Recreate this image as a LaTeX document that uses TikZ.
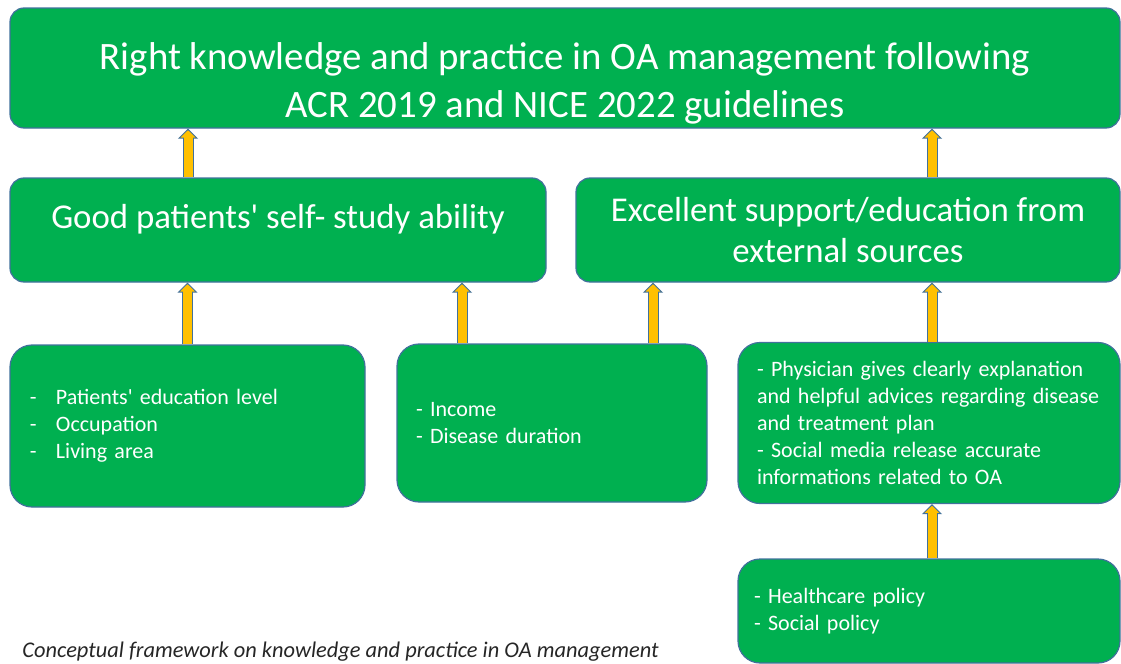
\documentclass[tikz,border=0pt]{standalone}
\usepackage{fontspec}
\setmainfont{Carlito}
\usetikzlibrary{arrows.meta}

\definecolor{boxgreen}{HTML}{00B050}
\definecolor{boxline}{HTML}{41719C}
\definecolor{arrowyellow}{HTML}{FFC000}

\begin{document}
\begin{tikzpicture}[x=0.5pt, y=-0.5pt,
        box/.style={rectangle, rounded corners=7pt, draw=boxline, line width=0.6pt, fill=boxgreen, text=white, inner sep=0pt},
        factor/.style={box, rounded corners=11pt, align=left, font=\fontsize{11}{13.5}\selectfont},
        up/.style={draw=boxline, line width=5.5pt, -{Triangle[width=10pt, length=5pt, line width=0.5pt, fill=arrowyellow]},
            postaction={draw=arrowyellow, line width=4.5pt, -, shorten >=4.4pt}}]
    \useasboundingbox (0,0) rectangle (1121,664);

    \node (goal)       at (565,68)   [box, minimum width=555pt, minimum height=60pt, align=center, text height=53pt, text depth=3.4pt, font=\fontsize{19.4}{24}\selectfont] {Right knowledge and practice in OA management following\\ACR 2019 and NICE 2022 guidelines};
    \node (selfstudy)  at (278,230)  [box, minimum width=268pt, minimum height=52pt, align=center, text depth=14pt, font=\fontsize{17.4}{21}\selectfont] {Good patients\textquotesingle{} self- study ability};
    \node (external)   at (848,230)  [box, minimum width=272pt, minimum height=52pt, align=center, font=\fontsize{17.4}{20.5}\selectfont] {Excellent support/education from\\external sources};

    \node (personal)   at (187.5,426) [factor, minimum width=177.5pt, minimum height=81pt, text width=157.5pt] {\makebox[13pt][l]{-}Patients\textquotesingle{} education level\\\makebox[13pt][l]{-}Occupation\\\makebox[13pt][l]{-}Living area};
    \node (economic)   at (552,423)   [factor, minimum width=155pt, minimum height=79pt, text width=136pt] {- Income\\- Disease duration};
    \node (support)    at (929,423) [factor, minimum width=191pt, minimum height=80.5pt, text width=172pt] {- Physician gives clearly explanation\\and helpful advices regarding disease\\and treatment plan\\- Social media release accurate\\informations related to OA};
    \node (policy)     at (929,611)   [factor, minimum width=191pt, minimum height=52pt, text width=175pt] {- Healthcare policy\\- Social policy};

    \node (caption) at (22,657) [anchor=base west, inner sep=0pt, text=black!85, font=\fontsize{11.2}{13}\selectfont\itshape] {Conceptual framework on knowledge and practice in OA management};

    % selfstudy -> goal
    \draw[up] ([xshift=-45pt]selfstudy.north) -- ([xshift=-45pt]selfstudy.north |- goal.south);
    % external -> goal
    \draw[up] ([xshift=42pt]external.north) -- ([xshift=42pt]external.north |- goal.south);
    % personal -> selfstudy
    \draw[up] (personal.north) -- (personal.north |- selfstudy.south);
    % economic -> selfstudy
    \draw[up] ([xshift=-45pt]economic.north) -- ([xshift=-45pt]economic.north |- selfstudy.south);
    % economic -> external
    \draw[up] ([xshift=50.5pt]economic.north) -- ([xshift=50.5pt]economic.north |- external.south);
    % support -> external
    \draw[up] ([xshift=1.5pt]support.north) -- ([xshift=1.5pt]support.north |- external.south);
    % policy -> support
    \draw[up] ([xshift=1.5pt]policy.north) -- ([xshift=1.5pt]policy.north |- support.south);
\end{tikzpicture}
\end{document}
